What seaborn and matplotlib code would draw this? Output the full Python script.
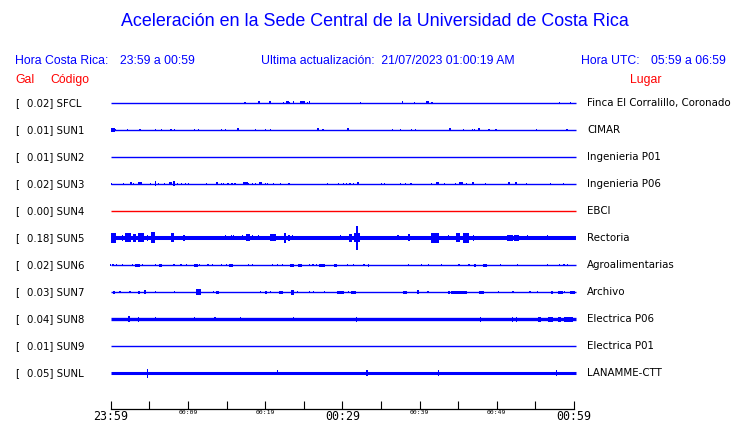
import matplotlib
matplotlib.use("Agg")
import matplotlib.pyplot as plt
import seaborn as sns
import pandas as pd

# ---------------- data ----------------
codes = ["SFCL", "SUN1", "SUN2", "SUN3", "SUN4", "SUN5", "SUN6", "SUN7", "SUN8", "SUN9", "SUNL"]
gal = [0.02, 0.01, 0.01, 0.02, 0.00, 0.18, 0.02, 0.03, 0.04, 0.01, 0.05]
places = ["Finca El Corralillo, Coronado", "CIMAR", "Ingenieria P01", "Ingenieria P06", "EBCI",
          "Rectoria", "Agroalimentarias", "Archivo", "Electrica P06", "Electrica P01", "LANAMME-CTT"]
trace_colors = ["blue", "blue", "blue", "blue", "red", "blue", "blue", "blue", "blue", "blue", "blue"]
trace_width = [1.0, 1.0, 1.0, 1.0, 1.0, 2.9, 1.0, 1.0, 2.4, 1.0, 2.2]   # baseline thickness (pt)

tick_minutes = [0, 5, 10, 15, 20, 25, 30, 35, 40, 45, 50, 55, 60]
tick_labels = ["23:59", "", "00:09", "", "00:19", "", "00:29", "", "00:39", "", "00:49", "", "00:59"]
trace_span = [0.0, 60.2]   # minutes after 23:59

# bursts: spikes (minute, half-amplitude px) and blocks (start, end, half-amplitude px)
SFCL_spikes = [(17.4, 1.0), (19.2, 1.5), (22.4, 1.0), (23.1, 1.0), (23.7, 1.5), (25.5, 1.0),
               (25.8, 1.5), (32.3, 0.8), (37.8, 1.5), (39.3, 1.0), (41.6, 1.0), (58.1, 1.0), (59.6, 1.0)]
SFCL_blocks = [(20.5, 20.7, 1.5), (22.7, 23.1, 1.5), (24.5, 25.1, 1.5), (40.8, 41.2, 1.5)]

SUN1_spikes = [(0.65, 1.2), (2.2, 1.2), (3.8, 1.0), (5.8, 1.2), (6.6, 1.2), (7.8, 1.2), (8.3, 1.0),
               (10.8, 1.2), (11.4, 1.2), (14.3, 1.2), (14.9, 1.0), (18.8, 1.2), (20.1, 1.0), (20.7, 1.2),
               (27.5, 1.0), (36.5, 1.2), (37.5, 1.2), (39.0, 1.0), (39.5, 1.0), (45.7, 1.2), (46.9, 1.2),
               (47.1, 1.2), (49.0, 1.0), (49.9, 1.0), (55.1, 1.2), (59.1, 1.2)]
SUN1_blocks = [(0.1, 0.5, 2.0), (16.3, 16.6, 1.5), (26.7, 27.0, 1.5), (30.6, 30.8, 1.5),
               (43.8, 44.1, 1.5), (47.6, 47.8, 1.5)]

SUN2_spikes = []
SUN2_blocks = []

SUN3_spikes = [(0.1, 1.2), (1.7, 1.2), (3.0, 1.2), (5.2, 1.0), (6.2, 1.0), (7.0, 1.0), (8.7, 1.2),
               (9.2, 1.0), (9.7, 1.0), (10.1, 1.0), (12.4, 1.0), (14.3, 1.2), (14.6, 1.0), (15.2, 1.0),
               (15.7, 1.0), (16.1, 1.0), (17.9, 1.2), (18.4, 1.2), (18.7, 1.0), (20.0, 1.2), (20.3, 1.0),
               (21.1, 1.0), (22.0, 1.2), (23.1, 1.2), (28.1, 1.2), (29.5, 1.0), (30.2, 1.0), (30.5, 1.0),
               (31.0, 1.0), (31.4, 1.0), (35.1, 1.0), (35.5, 1.0), (37.5, 1.0), (38.2, 1.0), (38.9, 1.0),
               (41.5, 1.0), (43.2, 1.0), (44.7, 1.0), (46.1, 1.0), (48.5, 1.0), (53.8, 1.0), (57.0, 1.0),
               (58.6, 1.0), (5.8, 2.5), (8.2, 2.5)]
SUN3_blocks = [(2.5, 2.7, 1.5), (3.5, 4.0, 1.5), (7.5, 8.0, 1.5), (13.6, 13.9, 1.5), (17.1, 17.8, 1.5),
               (19.2, 19.6, 1.5), (31.9, 32.1, 1.5), (42.1, 42.5, 1.5), (45.1, 45.6, 1.5),
               (46.8, 47.0, 1.5), (51.5, 51.7, 1.5), (52.4, 52.6, 1.5)]

SUN4_spikes = []
SUN4_blocks = []

SUN5_spikes = [(1.55, 3.0), (4.8, 3.0), (9.5, 3.0), (14.9, 2.5), (15.6, 2.5), (15.9, 2.5), (17.1, 2.5),
               (18.4, 2.5), (19.1, 2.5), (23.1, 3.0), (23.5, 2.5), (29.8, 2.5), (31.9, 12.0),
               (37.2, 2.5), (43.8, 2.5), (47.0, 3.0), (54.0, 2.5), (56.6, 2.5)]
SUN5_blocks = [(0.0, 0.65, 5.0), (1.9, 2.6, 4.5), (2.85, 3.25, 4.0), (3.5, 4.3, 4.5), (5.2, 5.8, 5.5),
               (7.8, 8.2, 4.5), (17.5, 18.1, 3.5), (20.6, 21.4, 3.5), (22.4, 22.7, 5.0),
               (30.8, 31.2, 4.0), (31.5, 32.3, 4.5), (38.5, 38.8, 3.5), (41.5, 42.5, 5.0),
               (44.7, 45.2, 4.5), (45.6, 46.4, 5.0), (51.3, 52.1, 3.0), (52.2, 52.9, 3.0)]

SUN6_spikes = [(0.0, 1.2), (0.3, 1.2), (0.8, 1.0), (1.55, 1.2), (2.85, 1.2), (4.1, 1.2), (5.8, 1.2),
               (8.2, 1.0), (9.1, 1.2), (9.8, 1.0), (11.5, 1.2), (12.6, 1.0), (13.2, 1.0), (14.3, 1.0),
               (15.0, 1.2), (17.8, 1.0), (18.4, 1.0), (20.9, 0.8), (21.6, 1.0), (22.3, 1.2),
               (25.8, 1.0), (26.2, 1.2), (26.7, 1.2), (30.7, 1.2), (31.4, 1.2), (32.8, 1.0),
               (38.6, 1.2), (40.2, 1.0), (41.2, 1.0), (42.8, 1.0), (45.1, 1.0), (46.4, 1.0),
               (50.5, 1.2), (52.7, 1.0), (56.6, 1.2), (58.1, 1.2), (58.7, 1.0), (59.2, 1.0)]
SUN6_blocks = [(3.1, 3.8, 1.5), (6.3, 6.6, 1.5), (10.8, 11.3, 1.5), (15.3, 15.9, 1.5), (23.2, 23.7, 1.5),
               (24.2, 24.8, 1.5), (27.0, 27.7, 1.5), (28.9, 29.3, 1.5), (33.3, 33.5, 1.5),
               (47.0, 47.3, 1.5), (48.2, 48.7, 1.5)]

SUN7_spikes = [(1.2, 1.2), (2.5, 1.2), (5.8, 1.2), (8.3, 1.0), (13.3, 1.2), (19.4, 1.0), (20.7, 1.2),
               (24.2, 1.2), (25.8, 1.2), (26.3, 1.0), (27.7, 1.2), (30.8, 1.2), (41.1, 1.2),
               (50.2, 1.2), (52.1, 1.0), (54.3, 1.0), (55.3, 1.2), (58.8, 1.2)]
SUN7_blocks = [(0.25, 0.5, 1.5), (3.5, 3.75, 1.5), (4.35, 4.6, 2.0), (11.1, 11.7, 3.0), (13.7, 14.0, 1.5),
               (20.0, 20.3, 1.5), (21.8, 22.3, 1.5), (23.3, 23.7, 2.5), (29.3, 29.8, 1.5),
               (29.8, 30.2, 1.5), (31.1, 31.8, 1.5), (37.8, 38.4, 1.5), (39.7, 39.9, 2.0),
               (43.7, 43.9, 1.5), (44.1, 46.1, 1.5), (47.7, 48.3, 1.5), (57.0, 57.3, 1.5),
               (57.9, 58.6, 1.5), (59.5, 60.1, 1.5)]

SUN8_spikes = [(3.6, 2.5), (5.8, 2.0), (10.9, 2.0), (13.5, 2.0), (16.8, 2.0), (23.7, 2.0),
               (31.8, 2.5), (47.9, 2.5), (52.0, 2.5), (52.5, 2.5)]
SUN8_blocks = [(2.2, 2.5, 3.0), (55.3, 55.7, 2.5), (56.6, 57.3, 2.5), (57.9, 58.3, 2.5), (58.7, 59.9, 2.5)]

SUN9_spikes = []
SUN9_blocks = []

SUNL_spikes = [(4.8, 4.5), (21.6, 2.5), (33.2, 3.0), (42.4, 3.0), (57.7, 3.0)]
SUNL_blocks = []

spikes = [SFCL_spikes, SUN1_spikes, SUN2_spikes, SUN3_spikes, SUN4_spikes, SUN5_spikes,
          SUN6_spikes, SUN7_spikes, SUN8_spikes, SUN9_spikes, SUNL_spikes]
blocks = [SFCL_blocks, SUN1_blocks, SUN2_blocks, SUN3_blocks, SUN4_blocks, SUN5_blocks,
          SUN6_blocks, SUN7_blocks, SUN8_blocks, SUN9_blocks, SUNL_blocks]

# ---------------- figure ----------------
sns.set_theme(style="white")
plt.rcParams["font.family"] = ["DejaVu Sans"]

W, H = 740, 423
fig = plt.figure(figsize=(W / 100, H / 100), dpi=100)
fig.patch.set_facecolor("white")

x0, x1 = 110.7, 574.0
ytop, ybot = 90.0, 409.0
ax = fig.add_axes([x0 / W, 1 - ybot / H, (x1 - x0) / W, (ybot - ytop) / H])
row0, step = 103.0, 27.0
ax.set_ylim((ybot - row0) / step, (ytop - row0) / step)
ax.set_xlim(0, 60)
px = 1.0 / step  # one pixel in row units

base = pd.DataFrame([
    {"t": t, "row": i, "code": c} for i, c in enumerate(codes) for t in trace_span
])
for i, c in enumerate(codes):
    sub = base[base["code"] == c].copy()
    sub["y"] = sub["row"].astype(float)
    sns.lineplot(data=sub, x="t", y="y", ax=ax, color=trace_colors[i],
                 linewidth=trace_width[i], solid_capstyle="butt", legend=False)
    sp = spikes[i]
    if sp:
        ax.bar([s[0] for s in sp], [2 * s[1] * px for s in sp], width=0.15,
               bottom=[i - s[1] * px for s in sp], color=trace_colors[i], linewidth=0)
    bl = blocks[i]
    if bl:
        ax.bar([(b[0] + b[1]) / 2 for b in bl], [2 * b[2] * px for b in bl],
               width=[max(b[1] - b[0], 0.15) for b in bl],
               bottom=[i - b[2] * px for b in bl], color=trace_colors[i], linewidth=0)

ax.set_xlabel("")
ax.set_ylabel("")
ax.set_yticks([])
for s in ["top", "left", "right"]:
    ax.spines[s].set_visible(False)
ax.spines["bottom"].set_color("black")
ax.spines["bottom"].set_linewidth(0.9)
ax.set_xticks(tick_minutes)
ax.set_xticklabels(tick_labels, family="DejaVu Sans Mono")
ax.tick_params(axis="x", direction="in", length=5.8, width=0.8, color="black", pad=0.8,
               labelcolor="black", bottom=True)
for lab in ax.get_xticklabels():
    if lab.get_text() in ("23:59", "00:29", "00:59"):
        lab.set_fontsize(8.4)
    else:
        lab.set_fontsize(4.6)
ax.set_facecolor("white")
for child in ax.get_children():
    try:
        child.set_clip_on(False)
    except Exception:
        pass

# ---------------- texts ----------------
def ftext(x, y, s, **kw):
    fig.text(x / W, 1 - y / H, s, va="center", **kw)

hdr = dict(family=["Liberation Sans", "DejaVu Sans"], color="#0000ff")
ftext(375, 22, "Aceleración en la Sede Central de la Universidad de Costa Rica", ha="center", fontsize=12.9, **hdr)
ftext(15, 61, "Hora Costa Rica:", ha="left", fontsize=8.8, **hdr)
ftext(120, 61, "23:59 a 00:59", ha="left", fontsize=8.8, **hdr)
ftext(261, 61, "Ultima actualización:  21/07/2023 01:00:19 AM", ha="left", fontsize=8.8, **hdr)
ftext(581, 61, "Hora UTC:", ha="left", fontsize=8.8, **hdr)
ftext(651, 61, "05:59 a 06:59", ha="left", fontsize=8.8, **hdr)
red = dict(family=["Liberation Sans", "DejaVu Sans"], color="#ff0000", fontsize=8.8)
ftext(15, 80, "Gal", ha="left", **red)
ftext(50, 80, "Código", ha="left", **red)
ftext(630, 80, "Lugar", ha="left", **red)

for i, c in enumerate(codes):
    y = row0 + step * i
    ftext(15, y, "[", ha="left", fontsize=7.3, color="black")
    ftext(27, y, f"{gal[i]:.2f}] {c}", ha="left", fontsize=7.3, color="black")
    ftext(587, y, places[i], ha="left", fontsize=7.4, color="black")

fig.savefig("out.png", dpi=100, facecolor="white")
